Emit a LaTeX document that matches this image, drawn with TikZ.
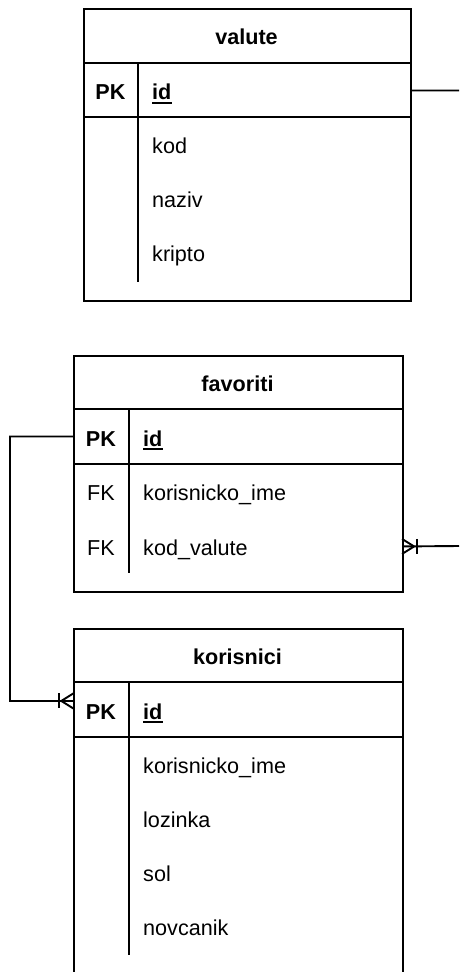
\documentclass[tikz,border=0pt]{standalone}
\usepackage{fontspec}
\setmainfont{Liberation Sans}
\usetikzlibrary{calc}
\begin{document}
\begin{tikzpicture}[x=1pt,y=-1pt,
  tbl/.style={draw=black, line width=1.9pt, rectangle, inner sep=0pt, anchor=north west},
  rowbox/.style={rectangle, inner sep=0pt, minimum height=54.5pt, anchor=north west},
  sep/.style={draw=black, line width=1.9pt},
  hdr/.style={inner sep=0pt, anchor=base, font=\fontsize{21.6}{26}\selectfont\bfseries},
  pkkey/.style={inner sep=0pt, anchor=base, font=\fontsize{21.6}{26}\selectfont\bfseries},
  fkkey/.style={inner sep=0pt, anchor=base, font=\fontsize{21.6}{26}\selectfont},
  fld/.style={inner sep=0pt, anchor=base west, font=\fontsize{21.6}{26}\selectfont},
  pkfld/.style={inner sep=0pt, anchor=base west, font=\fontsize{21.6}{26}\selectfont\bfseries},
  uline/.style={draw=black, line width=2pt},
  conn/.style={draw=black, line width=1.9pt},
]
\path[use as bounding box, clip] (0,0) rectangle (459,972);

% ---------- valute ----------
\node[tbl, minimum width=327pt, minimum height=292pt] (val) at (83,8) {};
\node[rowbox, minimum width=327pt] (valpk) at (83,63) {};
\draw[sep] (83,63) -- (410,63);
\draw[sep] (83,117) -- (410,117);
\draw[sep] (138,63) -- (138,282);
\node[hdr] (valh) at (246.5,44.5) {valute};
\node[pkkey] (valk1) at (110.5,99.5) {PK};
\node[pkfld] (valf1) at (152,99.5) {id};
\draw[uline] ($(valf1.base west)+(0,3)$) -- ($(valf1.base east)+(0,3)$);
\node[fld] (valf2) at (152,153.5) {kod};
\node[fld] (valf3) at (152,207.5) {naziv};
\node[fld] (valf4) at (152,261.5) {kripto};

% ---------- favoriti ----------
\node[tbl, minimum width=328.4pt, minimum height=236pt] (fav) at (73.3,355) {};
\node[rowbox, minimum width=328.4pt] (favpk) at (73.3,409) {};
\node[rowbox, minimum width=328.4pt] (favr3) at (73.3,519) {};
\draw[sep] (73.3,409) -- (401.7,409);
\draw[sep] (73.3,464) -- (401.7,464);
\draw[sep] (129,409) -- (129,573);
\node[hdr] (favh) at (237.5,391) {favoriti};
\node[pkkey] (favk1) at (101,446) {PK};
\node[pkfld] (favf1) at (143,446) {id};
\draw[uline] ($(favf1.base west)+(0,3)$) -- ($(favf1.base east)+(0,3)$);
\node[fkkey] (favk2) at (101,500.5) {FK};
\node[fld] (favf2) at (143,500.5) {korisnicko\_ime};
\node[fkkey] (favk3) at (101,555) {FK};
\node[fld] (favf3) at (143,555) {kod\_valute};

% ---------- korisnici ----------
\node[tbl, minimum width=328.4pt, minimum height=400pt] (kor) at (73.3,628) {};
\node[rowbox, minimum width=328.4pt] (korpk) at (73.3,682) {};
\draw[sep] (73.3,682) -- (401.7,682);
\draw[sep] (73.3,737) -- (401.7,737);
\draw[sep] (129,682) -- (129,955);
\node[hdr] (korh) at (237.5,664) {korisnici};
\node[pkkey] (kork1) at (101,719) {PK};
\node[pkfld] (korf1) at (143,719) {id};
\draw[uline] ($(korf1.base west)+(0,3)$) -- ($(korf1.base east)+(0,3)$);
\node[fld] (korf2) at (143,773.5) {korisnicko\_ime};
\node[fld] (korf3) at (143,827.5) {lozinka};
\node[fld] (korf4) at (143,881.5) {sol};
\node[fld] (korf5) at (143,935.5) {novcanik};

% ---------- connectors ----------
\coordinate (valout) at (459,90.5);
\draw[conn] (valpk.east) -- (valout);

\coordinate (favout) at (459,546);
\coordinate (favin) at (favr3.east);
\draw[conn] (favout) -- (favin);
\draw[conn] ($(favin)+(12,0)$) -- ($(favin)+(0,-7.5)$);
\draw[conn] ($(favin)+(12,0)$) -- ($(favin)+(0,7.5)$);
\draw[conn] ($(favin)+(14.5,-7.5)$) -- ($(favin)+(14.5,7.5)$);

\coordinate (korin) at ($(korpk.west)+(0,-8.5)$);
\coordinate (bendA) at (10,436.5);
\draw[conn] (favpk.west) -- (bendA) |- (korin);
\draw[conn] ($(korin)+(-12,0)$) -- ($(korin)+(0,-7.5)$);
\draw[conn] ($(korin)+(-12,0)$) -- ($(korin)+(0,7.5)$);
\draw[conn] ($(korin)+(-14.5,-7.5)$) -- ($(korin)+(-14.5,7.5)$);
\end{tikzpicture}
\end{document}
